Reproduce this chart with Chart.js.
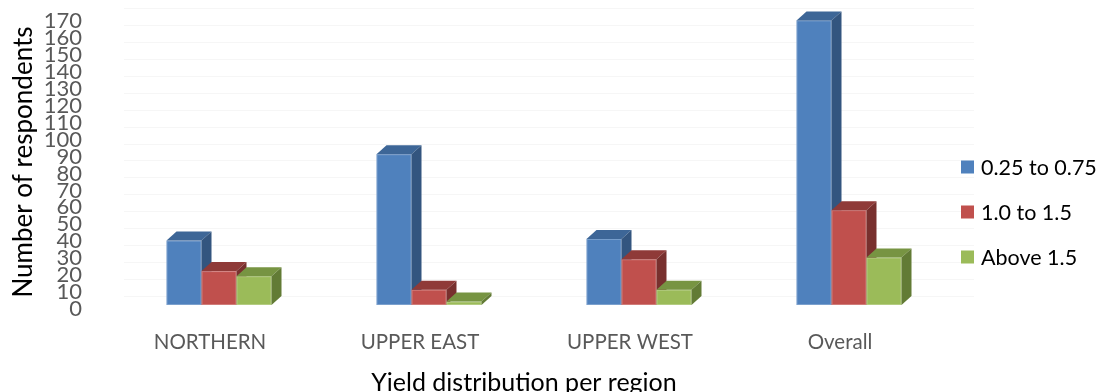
<!DOCTYPE html>
<html>
<head>
<meta charset="utf-8">
<script src="https://cdn.jsdelivr.net/npm/chart.js@4.4.1/dist/chart.umd.min.js"></script>
<style>
  html, body { margin: 0; padding: 0; background: #ffffff; }
  canvas { display: block; }
</style>
</head>
<body>
<canvas id="chart" width="1099" height="392"></canvas>
<script>
// Respondents by yield class, per region
const regions = ['NORTHERN', 'UPPER EAST', 'UPPER WEST', 'Overall'];
const yieldClasses = ['0.25 to 0.75', '1.0 to 1.5', 'Above 1.5'];
const lowYield = [38, 89, 39, 168];
const midYield = [20, 9, 27, 56];
const highYield = [17, 2, 9, 28];
const yTickValues = [0, 10, 20, 30, 40, 50, 60, 70, 80, 90, 100, 110, 120, 130, 140, 150, 160, 170];

const axisTitleY = 'Number of respondents';
const axisTitleX = 'Yield distribution per region';

// face colours: front, top, side
const palette = [
  { front: '#4F81BD', top: '#3D6697', side: '#33557F' },
  { front: '#C0504D', top: '#8F3A38', side: '#78302E' },
  { front: '#9BBB59', top: '#779442', side: '#627B35' }
];

const FONT = 'Lato, "Open Sans", sans-serif';
const DEPTH = { dx: 10, dy: 9 };

// faint back-wall grid lines
const backWall = {
  id: 'backWall',
  beforeDatasetsDraw(chart) {
    const { ctx, chartArea } = chart;
    const ys = chart.scales.y;
    ctx.save();
    ctx.strokeStyle = 'rgba(0,0,0,0.035)';
    ctx.lineWidth = 1;
    yTickValues.forEach(v => {
      const y = Math.round(ys.getPixelForValue(v) - DEPTH.dy) + 0.5;
      ctx.beginPath();
      ctx.moveTo(chartArea.left + DEPTH.dx, y);
      ctx.lineTo(chartArea.right + DEPTH.dx + 10, y);
      ctx.stroke();
    });
    ctx.restore();
  }
};

// extruded columns: front face from the bar element, then top and side faces
const columns3d = {
  id: 'columns3d',
  beforeDatasetsDraw(chart) {
    const ctx = chart.ctx;
    const n = chart.data.labels.length;
    ctx.save();
    for (let i = 0; i < n; i++) {
      chart.data.datasets.forEach((ds, d) => {
        const el = chart.getDatasetMeta(d).data[i];
        const c = palette[d];
        const x0 = el.x - el.width / 2, x1 = el.x + el.width / 2;
        const yt = el.y, yb = el.base;
        const { dx, dy } = DEPTH;
        // front
        ctx.fillStyle = c.front;
        ctx.fillRect(x0, yt, x1 - x0, yb - yt);
        ctx.strokeStyle = 'rgba(255,255,255,0.25)';
        ctx.lineWidth = 1;
        ctx.strokeRect(x0 + 0.5, yt + 0.5, x1 - x0 - 1, yb - yt - 1);
        // top
        ctx.fillStyle = c.top;
        ctx.beginPath();
        ctx.moveTo(x0, yt);
        ctx.lineTo(x1, yt);
        ctx.lineTo(x1 + dx, yt - dy);
        ctx.lineTo(x0 + dx, yt - dy);
        ctx.closePath();
        ctx.fill();
        // side
        ctx.fillStyle = c.side;
        ctx.beginPath();
        ctx.moveTo(x1, yt);
        ctx.lineTo(x1 + dx, yt - dy);
        ctx.lineTo(x1 + dx, yb - dy);
        ctx.lineTo(x1, yb);
        ctx.closePath();
        ctx.fill();
      });
    }
    ctx.restore();
    return false;
  }
};

// axis titles and legend
const annotations = {
  id: 'annotations',
  afterDraw(chart) {
    const ctx = chart.ctx;
    ctx.save();
    ctx.fillStyle = '#000000';
    ctx.font = '26px ' + FONT;
    ctx.textAlign = 'center';
    ctx.textBaseline = 'middle';
    ctx.save();
    ctx.translate(24, 162);
    ctx.rotate(-Math.PI / 2);
    ctx.fillText(axisTitleY, 0, 0);
    ctx.restore();

    ctx.font = '25px ' + FONT;
    ctx.textBaseline = 'alphabetic';
    ctx.fillText(axisTitleX, 524, 391);

    // legend
    ctx.font = '21.5px ' + FONT;
    ctx.textAlign = 'left';
    ctx.textBaseline = 'middle';
    const legendY = [167, 212, 257];
    chart.data.datasets.forEach((ds, d) => {
      ctx.fillStyle = palette[d].front;
      ctx.fillRect(961, legendY[d] - 6.5, 13, 13);
      ctx.fillStyle = '#000000';
      ctx.fillText(ds.label, 981, legendY[d] + 1);
    });
    ctx.restore();
  }
};

new Chart(document.getElementById('chart'), {
  type: 'bar',
  data: {
    labels: regions,
    datasets: [
      { label: yieldClasses[0], data: lowYield, backgroundColor: palette[0].front },
      { label: yieldClasses[1], data: midYield, backgroundColor: palette[1].front },
      { label: yieldClasses[2], data: highYield, backgroundColor: palette[2].front }
    ]
  },
  options: {
    responsive: false,
    devicePixelRatio: 1,
    animation: false,
    datasets: { bar: { categoryPercentage: 0.5, barPercentage: 1.0 } },
    layout: { padding: { left: 0, right: 145, top: 17, bottom: 0 } },
    plugins: {
      legend: { display: false },
      tooltip: { enabled: false }
    },
    scales: {
      x: {
        grid: { display: false, drawTicks: false },
        border: { display: false },
        ticks: {
          font: { family: FONT, size: 20.5 },
          color: '#595959',
          padding: 25,
          labelOffset: -9,
          maxRotation: 0
        },
        afterFit(scale) {
          scale.height = 87;
          scale.paddingLeft = 0;
          scale.paddingRight = 0;
        }
      },
      y: {
        min: 0,
        max: 170,
        grid: { display: false, drawTicks: false },
        border: { display: false },
        afterBuildTicks(scale) { scale.ticks = yTickValues.map(v => ({ value: v })); },
        ticks: {
          autoSkip: false,
          font: { family: FONT, size: 22 },
          color: '#595959',
          padding: 32,
          labelOffset: 4
        },
        afterFit(scale) {
          scale.width = 114;
          scale.paddingTop = 0;
          scale.paddingBottom = 0;
        }
      }
    }
  },
  plugins: [backWall, columns3d, annotations]
});
</script>
</body>
</html>
